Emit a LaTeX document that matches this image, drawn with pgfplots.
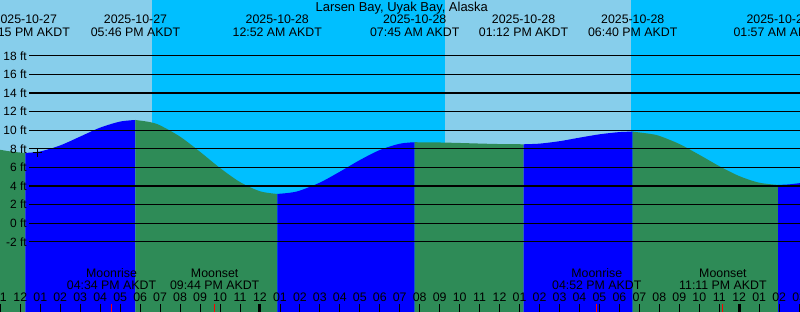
\documentclass[border=0pt]{standalone}
\usepackage{fontspec}
\setmainfont{Liberation Sans}
\usepackage{pgfplots}
\pgfplotsset{compat=1.18}
\definecolor{day}{RGB}{135,206,235}
\definecolor{night}{RGB}{0,191,255}
\definecolor{fall}{RGB}{46,139,87}
\definecolor{rise}{RGB}{0,0,255}
\tikzset{lbl/.style={anchor=base, inner sep=0pt, font=\fontsize{12.4}{14}\selectfont}}
\begin{document}
\begin{tikzpicture}
\begin{axis}[
  width=800bp, height=312bp, scale only axis,
  xmin=10.983, xmax=51.043, ymin=-9.54, ymax=24,
  axis x line*=bottom, axis y line=none,
  x axis line style={draw=none},
  axis on top,
  xtick={11,...,51},
  xticklabels={11,12,01,02,03,04,05,06,07,08,09,10,11,12,01,02,03,04,05,06,07,08,09,10,11,12,01,02,03,04,05,06,07,08,09,10,11,12,01,02,03},
  tick align=inside, major tick length=8bp,
  tick style={black, line width=0.8bp},
  xticklabel style={anchor=base, yshift=10.3bp, inner sep=0pt, font=\fontsize{12.4}{14}\selectfont},
  ytick=\empty,
]
% day / night background
\addplot[draw=none, fill=day] coordinates {(10.9,-12) (10.9,26) (18.595,26) (18.595,-12) (10.9,-12)};
\addplot[draw=none, fill=night] coordinates {(18.595,-12) (18.595,26) (33.267,26) (33.267,-12) (18.595,-12)};
\addplot[draw=none, fill=day] coordinates {(33.267,-12) (33.267,26) (42.58,26) (42.58,-12) (33.267,-12)};
\addplot[draw=none, fill=night] coordinates {(42.58,-12) (42.58,26) (51.2,26) (51.2,-12) (42.58,-12)};

% tide segments
\addplot[draw=none, fill=fall, smooth] coordinates {(10.9,7.93) (11.5,7.72) (12,7.6) (12.25,7.56)} |- (10.9,-12) -- cycle;
\addplot[draw=none, fill=rise, smooth] coordinates {(12.25,7.56) (13,7.72) (14,8.37) (15,9.32) (16,10.28) (17,10.93) (17.767,11.1)} |- (12.25,-12) -- cycle;
\addplot[draw=none, fill=fall, smooth] coordinates {(17.767,11.1) (18.5,10.87) (19,10.52) (20,9.31) (21,7.68) (22,5.94) (23,4.43) (24,3.44) (24.867,3.15)} |- (17.767,-12) -- cycle;
\addplot[draw=none, fill=rise, smooth] coordinates {(24.867,3.15) (25.5,3.28) (26,3.51) (27,4.37) (28,5.54) (29,6.79) (30,7.87) (31,8.55) (31.75,8.71)} |- (24.867,-12) -- cycle;
\addplot[draw=none, fill=fall, smooth] coordinates {(31.75,8.71) (33,8.683) (34,8.63) (35,8.567) (36,8.515) (37.2,8.49)} |- (31.75,-12) -- cycle;
\addplot[draw=none, fill=rise, smooth] coordinates {(37.2,8.49) (38,8.56) (39,8.82) (40,9.20) (41,9.56) (42,9.80) (42.667,9.85)} |- (37.2,-12) -- cycle;
\addplot[draw=none, fill=fall, smooth] coordinates {(42.667,9.85) (43.5,9.62) (44,9.39) (45,8.52) (46,7.36) (47,6.14) (48,5.07) (49,4.36) (49.95,4.12)} |- (42.667,-12) -- cycle;
\addplot[draw=none, fill=rise, smooth] coordinates {(49.95,4.12) (50.5,4.18) (51.2,4.36)} |- (49.95,-12) -- cycle;

% horizontal level lines and labels
\pgfplotsinvokeforeach{-2,0,2,4,6,8,10,12,14,16,18}{
  \addplot[black, line width=1.1bp] coordinates {(12.45,#1) (51.2,#1)};
  \node[anchor=east, inner sep=0pt, font=\fontsize{12}{14}\selectfont] at (axis cs:12.33,#1) {#1 ft};
}

% marker
\addplot[only marks, mark=+, mark size=4.5bp, black, line width=0.9bp] coordinates {(12.85,7.6)};

% special ticks
\addplot[black, line width=3bp] coordinates {(24,-9.54) (24,-8.68)};
\addplot[black, line width=3bp] coordinates {(48,-9.54) (48,-8.68)};
\addplot[red, line width=1bp] coordinates {(16.567,-9.54) (16.567,-8.68)};
\addplot[red, line width=1bp] coordinates {(21.733,-9.54) (21.733,-8.68)};
\addplot[red, line width=1bp] coordinates {(40.867,-9.54) (40.867,-8.68)};
\addplot[red, line width=1bp] coordinates {(47.183,-9.54) (47.183,-8.68)};

% title
\node[anchor=base, inner sep=0pt, font=\fontsize{13}{15}\selectfont] at (axis cs:31.1,22.72) {Larsen Bay, Uyak Bay, Alaska};

% tide event labels
\node[lbl] at (axis cs:12.25,21.43) {2025-10-27};
\node[lbl] at (axis cs:12.25,20.06) {12:15 PM AKDT};
\node[lbl] at (axis cs:17.767,21.43) {2025-10-27};
\node[lbl] at (axis cs:17.767,20.06) {05:46 PM AKDT};
\node[lbl] at (axis cs:24.867,21.43) {2025-10-28};
\node[lbl] at (axis cs:24.867,20.06) {12:52 AM AKDT};
\node[lbl] at (axis cs:31.75,21.43) {2025-10-28};
\node[lbl] at (axis cs:31.75,20.06) {07:45 AM AKDT};
\node[lbl] at (axis cs:37.2,21.43) {2025-10-28};
\node[lbl] at (axis cs:37.2,20.06) {01:12 PM AKDT};
\node[lbl] at (axis cs:42.667,21.43) {2025-10-28};
\node[lbl] at (axis cs:42.667,20.06) {06:40 PM AKDT};
\node[lbl] at (axis cs:49.95,21.43) {2025-10-29};
\node[lbl] at (axis cs:49.95,20.06) {01:57 AM AKDT};

% moon labels
\node[lbl] at (axis cs:16.567,-5.81) {Moonrise};
\node[lbl] at (axis cs:16.567,-7.14) {04:34 PM AKDT};
\node[lbl] at (axis cs:21.733,-5.81) {Moonset};
\node[lbl] at (axis cs:21.733,-7.14) {09:44 PM AKDT};
\node[lbl] at (axis cs:40.867,-5.81) {Moonrise};
\node[lbl] at (axis cs:40.867,-7.14) {04:52 PM AKDT};
\node[lbl] at (axis cs:47.183,-5.81) {Moonset};
\node[lbl] at (axis cs:47.183,-7.14) {11:11 PM AKDT};
\end{axis}
\pgfresetboundingbox
\path[use as bounding box] (current axis.south west) rectangle (current axis.north east);
\end{tikzpicture}
\end{document}
